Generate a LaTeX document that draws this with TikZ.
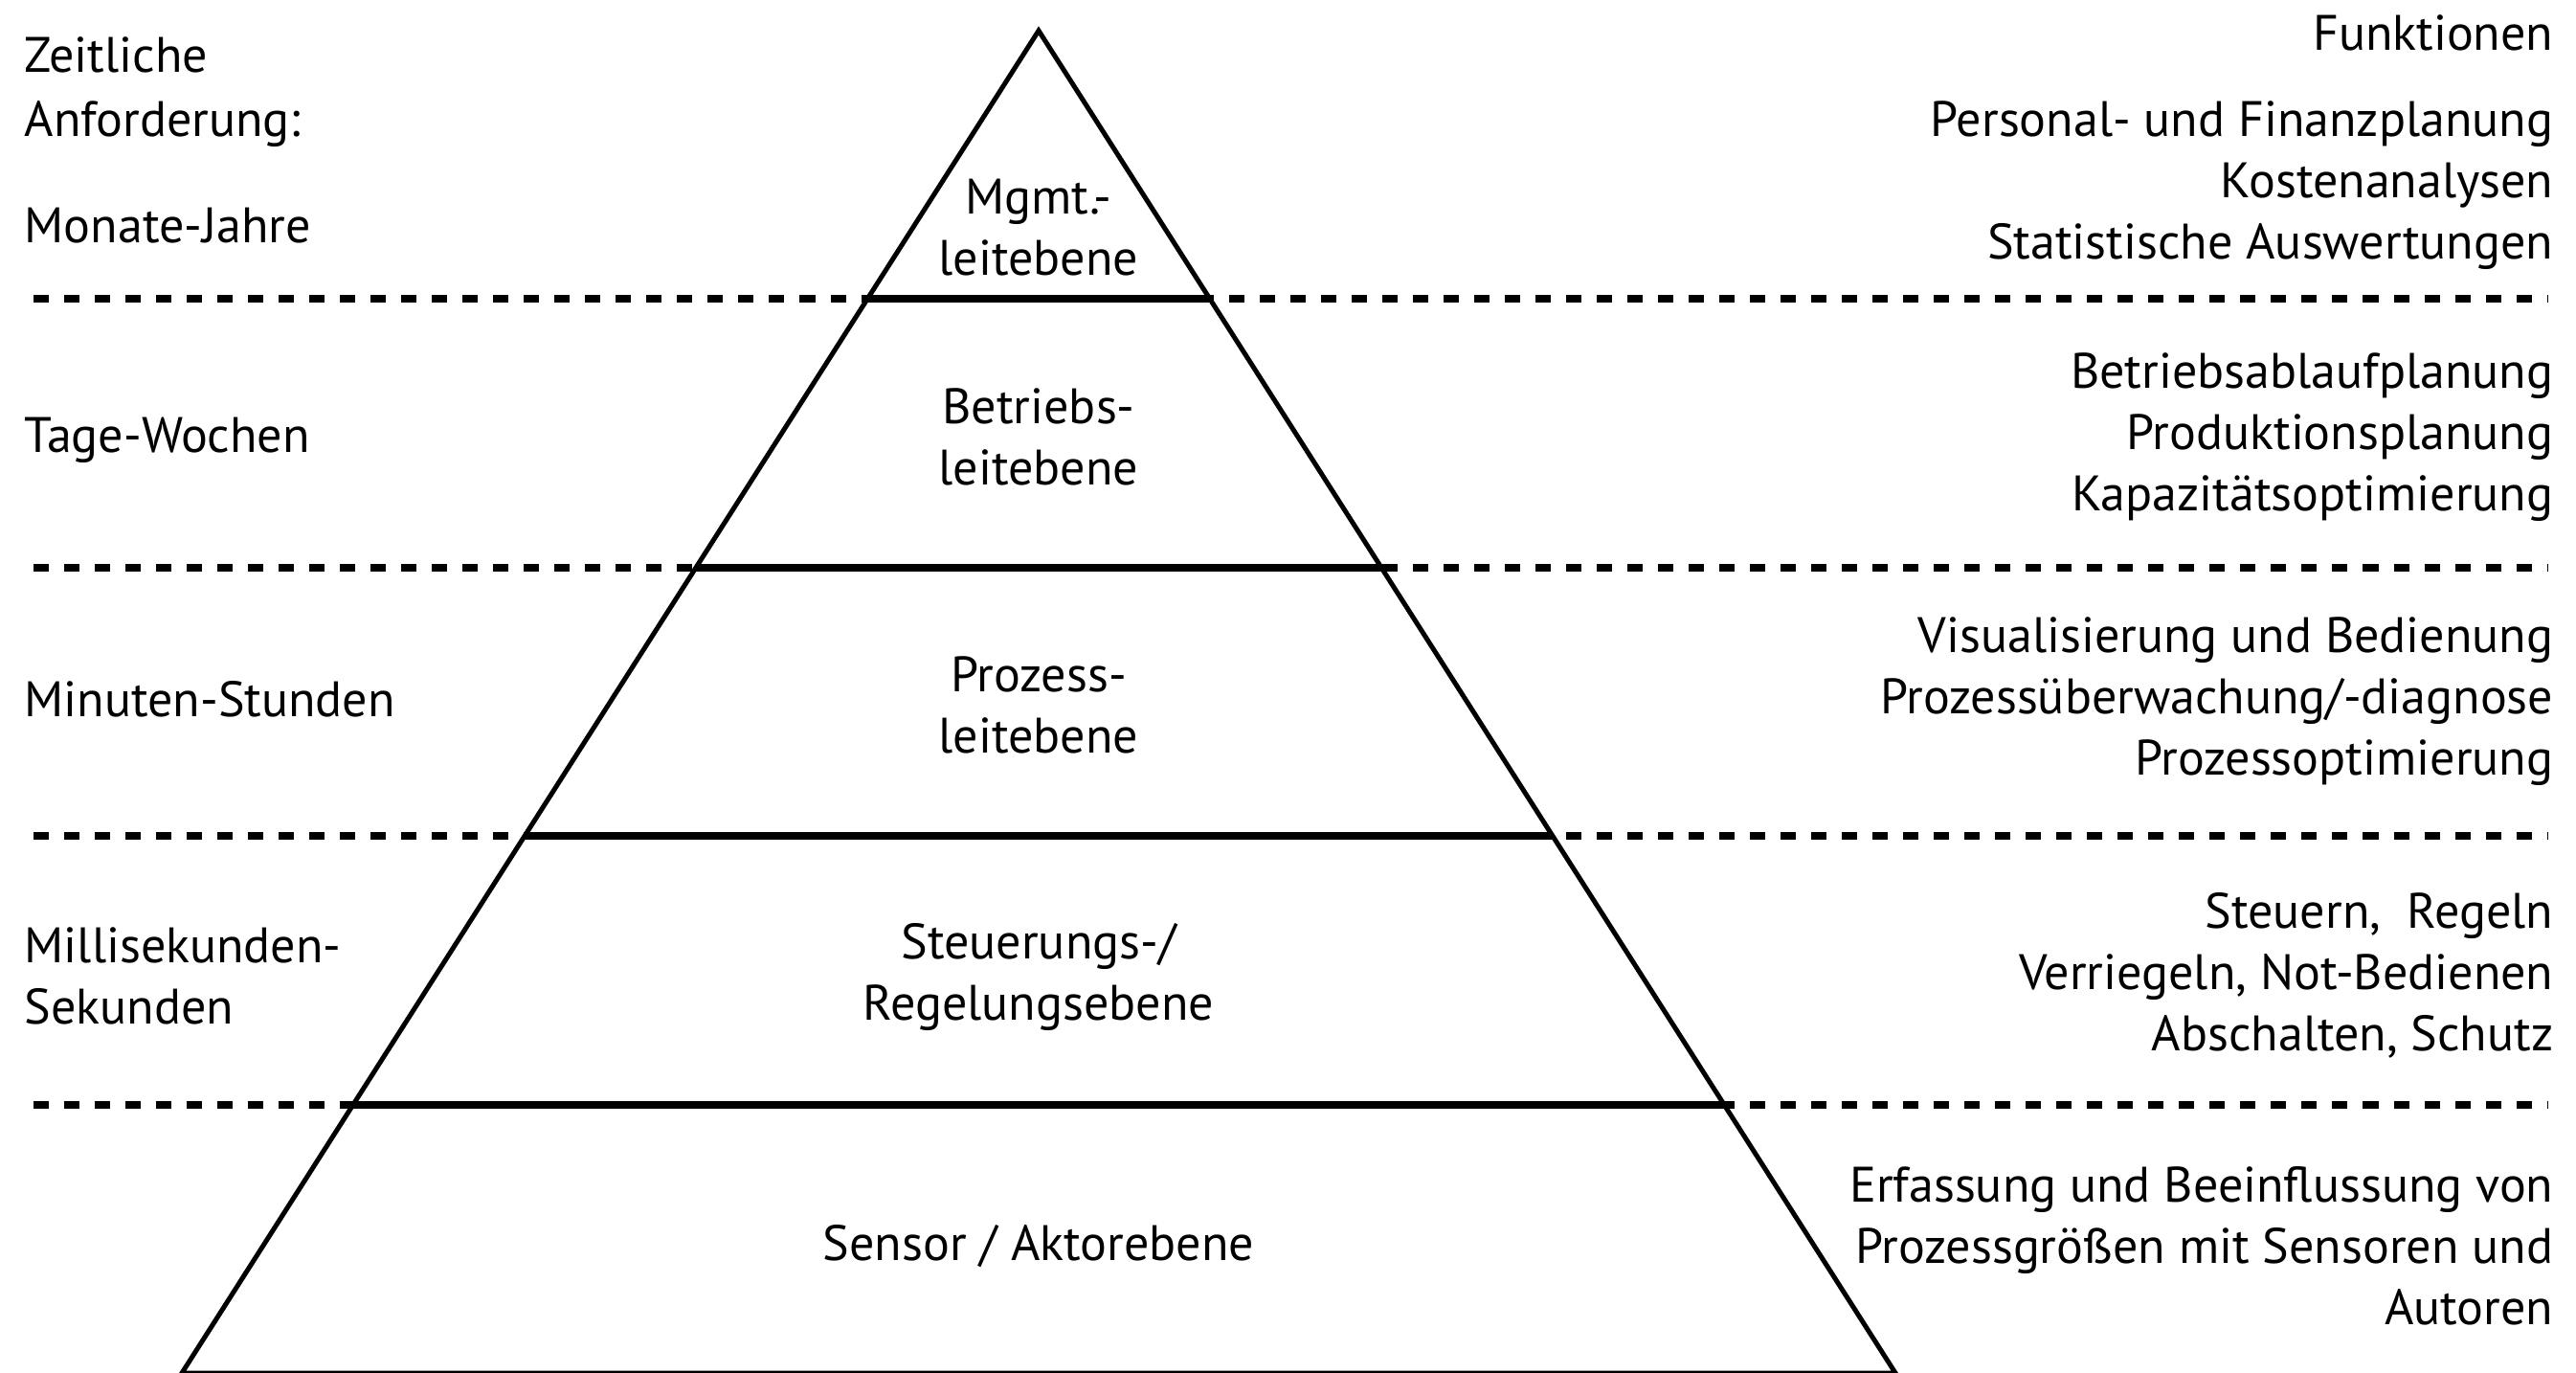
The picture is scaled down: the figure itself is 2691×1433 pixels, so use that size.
\documentclass[tikz,border=0pt]{standalone}
\usepackage{fontspec}
\setmainfont{PT Sans}
\usetikzlibrary{calc}

\tikzset{
  txt/.style={font=\fontsize{14.8}{18.2}\selectfont, inner sep=0pt},
  zeit/.style={txt, anchor=west, align=left},
  funk/.style={txt, anchor=east, align=right},
  ebene/.style={txt, align=center},
  trenner/.style={line width=0.08cm, dash pattern=on 0.16cm off 0.16cm},
  stufe/.style={line width=0.08cm},
  seite/.style={line width=0.05cm, line join=miter}
}

\begin{document}
\begin{tikzpicture}[x=0.01cm, y=-0.01cm]
        \useasboundingbox (0,0) rectangle (2691,1433);

        \coordinate (spitze) at (1085,32);
        \coordinate (links) at (190,1434);
        \coordinate (rechts) at (1980,1434);
        \coordinate (randL) at (35,0);
        \coordinate (randR) at (2662,0);

        \coordinate (l1) at ($(spitze)!0.2!(links)$);
        \coordinate (r1) at ($(spitze)!0.2!(rechts)$);
        \coordinate (l2) at ($(spitze)!0.4!(links)$);
        \coordinate (r2) at ($(spitze)!0.4!(rechts)$);
        \coordinate (l3) at ($(spitze)!0.6!(links)$);
        \coordinate (r3) at ($(spitze)!0.6!(rechts)$);
        \coordinate (l4) at ($(spitze)!0.8!(links)$);
        \coordinate (r4) at ($(spitze)!0.8!(rechts)$);

        \draw[trenner] (randL |- l1) -- (randR |- r1);
        \draw[trenner] (randL |- l2) -- (randR |- r2);
        \draw[trenner] (randL |- l3) -- (randR |- r3);
        \draw[trenner] (randL |- l4) -- (randR |- r4);

        \draw[stufe] (l1) -- (r1);
        \draw[stufe] (l2) -- (r2);
        \draw[stufe] (l3) -- (r3);
        \draw[stufe] (l4) -- (r4);

        \draw[seite] (links) -- (spitze) -- (rechts) -- cycle;

        \node[ebene] (mgmt) at (1085,238) {Mgmt.-\\leitebene};
        \node[ebene] (betrieb) at (1085,456) {Betriebs-\\leitebene};
        \node[ebene] (prozess) at (1085,736) {Prozess-\\leitebene};
        \node[ebene] (steuer) at (1085,1020) {Steuerungs-/\\Regelungsebene};
        \node[ebene] (sensor) at (1085,1302) {Sensor / Aktorebene};

        \node[zeit] (anford) at (25,96) {Zeitliche\\[0.03cm]Anforderung:};
        \node[zeit] (monate) at (25,236) {Monate-Jahre};
        \node[zeit] (tage) at (25,460) {Tage-Wochen};
        \node[zeit] (minuten) at (25,730) {Minuten-Stunden};
        \node[zeit] (milli) at (25,1019) {Millisekunden-\\Sekunden};

        \node[funk] (funktionen) at (2668,34) {Funktionen};
        \node[funk] (fmgmt) at (2668,194) {Personal- und Finanzplanung\\Kostenanalysen\\Statistische Auswertungen};
        \node[funk] (fbetrieb) at (2668,457) {Betriebsablaufplanung\\Produktionsplanung\\Kapazitätsoptimierung};
        \node[funk] (fprozess) at (2668,733) {Visualisierung und Bedienung\\Prozessüberwachung/-diagnose\\Prozessoptimierung};
        \node[funk] (fsteuer) at (2668,1019) {Steuern,\ \ Regeln\\Verriegeln, Not-Bedienen\\Abschalten, Schutz};
        \node[funk] (fsensor) at (2668,1301) {Erfassung und Beeinflussung von\\Prozessgrößen mit Sensoren und\\Autoren};
      \end{tikzpicture}
\end{document}
